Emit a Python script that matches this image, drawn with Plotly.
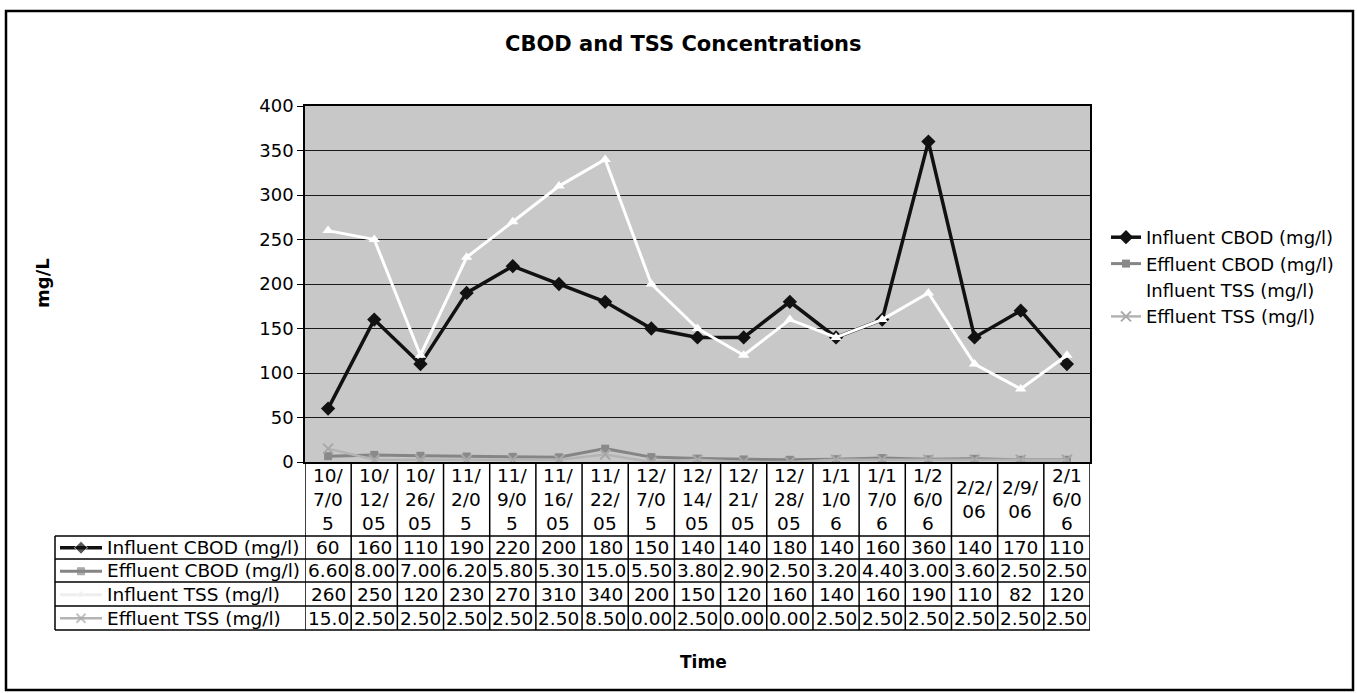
import plotly.graph_objects as go

# ---------------- data ----------------
dates = ["10/7/05", "10/12/05", "10/26/05", "11/2/05", "11/9/05", "11/16/05", "11/22/05",
         "12/7/05", "12/14/05", "12/21/05", "12/28/05", "1/11/06", "1/17/06", "1/26/06",
         "2/2/06", "2/9/06", "2/16/06"]
date_labels = ["10/<br>7/0<br>5", "10/<br>12/<br>05", "10/<br>26/<br>05", "11/<br>2/0<br>5",
               "11/<br>9/0<br>5", "11/<br>16/<br>05", "11/<br>22/<br>05", "12/<br>7/0<br>5",
               "12/<br>14/<br>05", "12/<br>21/<br>05", "12/<br>28/<br>05", "1/1<br>1/0<br>6",
               "1/1<br>7/0<br>6", "1/2<br>6/0<br>6", "2/2/<br>06", "2/9/<br>06", "2/1<br>6/0<br>6"]
influent_cbod = [60, 160, 110, 190, 220, 200, 180, 150, 140, 140, 180, 140, 160, 360, 140, 170, 110]
effluent_cbod = [6.60, 8.00, 7.00, 6.20, 5.80, 5.30, 15.0, 5.50, 3.80, 2.90, 2.50, 3.20, 4.40, 3.00, 3.60, 2.50, 2.50]
influent_tss = [260, 250, 120, 230, 270, 310, 340, 200, 150, 120, 160, 140, 160, 190, 110, 82, 120]
effluent_tss = [15.0, 2.50, 2.50, 2.50, 2.50, 2.50, 8.50, 0.00, 2.50, 0.00, 0.00, 2.50, 2.50, 2.50, 2.50, 2.50, 2.50]
series_names = ["Influent CBOD (mg/l)", "Effluent CBOD (mg/l)", "Influent TSS (mg/l)", "Effluent TSS (mg/l)"]
y_ticks = [0, 50, 100, 150, 200, 250, 300, 350, 400]

# ---------------- geometry helpers ----------------
W, H = 1357, 693
def px(x):
    return x / W
def py(y):
    return (H - y) / H

FONT = "DejaVu Sans"
TS = 18.5  # table / label font size
xi = list(range(len(dates)))

PLOT_TOP, PLOT_BOT = 106, 462
ROW_LINES = [536, 559, 582, 606, 630]
ROW_CENTERS = [547.5, 570.5, 594, 618]

styles = [
    dict(line=dict(color="#111111", width=3.5), marker=dict(symbol="diamond", size=11, color="#111111")),
    dict(line=dict(color="#858585", width=3), marker=dict(symbol="square", size=8, color="#8a8a8a")),
    dict(line=dict(color="#ffffff", width=3), marker=dict(symbol="triangle-up", size=10, color="#ffffff")),
    dict(line=dict(color="#b4b4b4", width=2.5), marker=dict(symbol="x-thin-open", size=10, color="#a8a8a8",
                                                              line=dict(width=2, color="#a8a8a8"))),
]
series = [influent_cbod, effluent_cbod, influent_tss, effluent_tss]

fig = go.Figure()
for name, vals, st in zip(series_names, series, styles):
    fig.add_trace(go.Scatter(x=xi, y=vals, name=name, mode="lines+markers",
                             line=st["line"], marker=st["marker"], xaxis="x", yaxis="y"))

# legend keys inside the data table (drawn on a helper axis pair)
for r, st in enumerate(styles):
    c = 3.5 - r
    mk = dict(st["marker"])
    mk["size"] = [0, mk["size"] - 1, 0]
    lc = st["line"]["color"]
    if lc == "#ffffff":
        lc = "#eeeeee"
        mk["color"] = "#eeeeee"
    fig.add_trace(go.Scatter(x=[0, 0.5, 1], y=[c, c, c], mode="lines+markers",
                             line=dict(color=lc, width=st["line"]["width"]), marker=mk,
                             showlegend=False, hoverinfo="skip", xaxis="x2", yaxis="y2"))

def fmt(v, small):
    if not small:
        return f"{v:g}"
    if v >= 10:
        return f"{v:.1f}"
    return f"{v:.2f}"

annotations = []
annotations.append(dict(text="<b>CBOD and TSS Concentrations</b>", x=px(683), y=py(44), xref="paper", yref="paper",
                        showarrow=False, font=dict(family=FONT, size=21, color="black"),
                        xanchor="center", yanchor="middle"))
annotations.append(dict(text="<b>mg/L</b>", x=px(42), y=py(283), xref="paper", yref="paper", textangle=-90,
                        showarrow=False, font=dict(family=FONT, size=18, color="black"),
                        xanchor="center", yanchor="middle"))
annotations.append(dict(text="<b>Time</b>", x=px(703), y=py(662), xref="paper", yref="paper",
                        showarrow=False, font=dict(family=FONT, size=17, color="black"),
                        xanchor="center", yanchor="middle"))

# table header (dates)
for i, lab in enumerate(date_labels):
    annotations.append(dict(text=lab, x=i, y=py((PLOT_BOT + ROW_LINES[0]) / 2), xref="x", yref="paper",
                            showarrow=False, font=dict(family=FONT, size=TS, color="black"),
                            xanchor="center", yanchor="middle"))
for r, (name, vals) in enumerate(zip(series_names, series)):
    annotations.append(dict(text=name, x=px(105), y=py(ROW_CENTERS[r]), xref="paper", yref="paper",
                            showarrow=False, font=dict(family=FONT, size=TS, color="black"),
                            xanchor="left", yanchor="middle"))
    small = r in (1, 3)
    for i, v in enumerate(vals):
        annotations.append(dict(text=fmt(v, small), x=i, y=py(ROW_CENTERS[r]), xref="x", yref="paper",
                                showarrow=False, font=dict(family=FONT, size=TS, color="black"),
                                xanchor="center", yanchor="middle"))

shapes = []
# gray plot-area background (only for the main subplot)
shapes.append(dict(type="rect", xref="x domain", yref="y domain", x0=0, x1=1, y0=0, y1=1,
                   fillcolor="#c8c8c8", line=dict(width=0), layer="below"))
LINE = dict(color="black", width=1.5)
for yy in ROW_LINES:
    shapes.append(dict(type="line", xref="paper", yref="paper", x0=px(55), x1=px(1090), y0=py(yy), y1=py(yy), line=LINE))
for i in range(len(dates) + 1):
    shapes.append(dict(type="line", xref="x", yref="paper", x0=i - 0.5, x1=i - 0.5,
                       y0=py(PLOT_BOT), y1=py(ROW_LINES[-1]), line=LINE))
shapes.append(dict(type="line", xref="paper", yref="paper", x0=px(55), x1=px(55),
                   y0=py(ROW_LINES[0]), y1=py(ROW_LINES[-1]), line=LINE))
# outer chart border
shapes.append(dict(type="rect", xref="paper", yref="paper", x0=px(6), x1=px(1353), y0=py(11), y1=py(690),
                   line=dict(color="black", width=2.5), layer="below"))

fig.update_layout(
    width=W, height=H,
    margin=dict(l=0, r=0, t=0, b=0, autoexpand=False),
    paper_bgcolor="white",
    plot_bgcolor="white",
    font=dict(family=FONT, size=18, color="black"),
    xaxis=dict(domain=[px(305), px(1090)], range=[-0.5, len(dates) - 0.5], showticklabels=False,
               showgrid=False, zeroline=False, showline=True, linecolor="black", linewidth=1.5,
               mirror=True, ticks="", fixedrange=True, anchor="y", automargin=False),
    yaxis=dict(domain=[py(PLOT_BOT), py(PLOT_TOP)], range=[0, 400], tickvals=y_ticks, ticks="outside", ticklen=6,
               tickcolor="black", showgrid=True, gridcolor="#1a1a1a", gridwidth=1, zeroline=False,
               showline=True, linecolor="black", linewidth=1.5, mirror=True, automargin=False,
               tickfont=dict(family=FONT, size=18, color="black"), anchor="x"),
    xaxis2=dict(domain=[px(60), px(102)], range=[0, 1], visible=False, anchor="y2"),
    yaxis2=dict(domain=[py(ROW_LINES[-1]), py(ROW_LINES[0])], range=[0, 4], visible=False, anchor="x2"),
    legend=dict(x=px(1106), y=py(219), xanchor="left", yanchor="top", bgcolor="rgba(0,0,0,0)",
                font=dict(family=FONT, size=18, color="black"), tracegroupgap=0, itemwidth=30),
    annotations=annotations,
    shapes=shapes,
    showlegend=True,
)

fig.write_html("out.html", config={"displayModeBar": False},
               post_script="document.body.style.margin='0px';")
